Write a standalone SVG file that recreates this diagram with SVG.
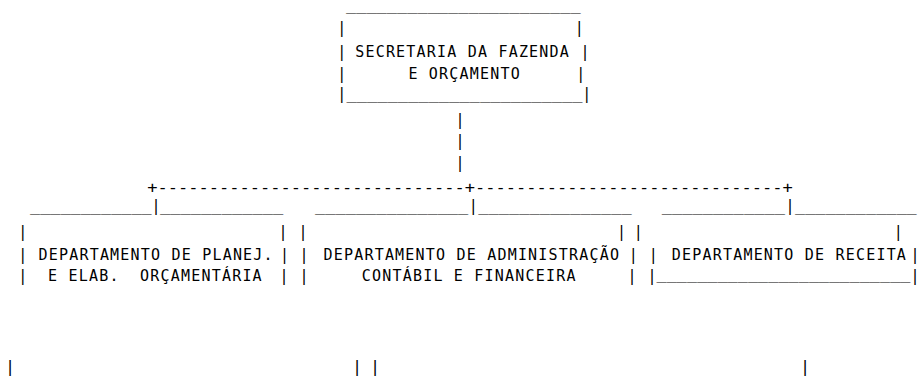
<svg xmlns="http://www.w3.org/2000/svg" width="923" height="383" viewBox="0 0 923 383" xml:space="preserve">
<style>
.t{font-family:"DejaVu Sans Mono","Liberation Mono",monospace;font-size:15px;letter-spacing:1.2px;fill:#000;white-space:pre}
.n{letter-spacing:0}
.b{font-size:16px;letter-spacing:0}
</style>
<rect width="923" height="383" fill="#ffffff"/>
<g id="secretaria" class="t">
<text class="n" x="346" y="10" textLength="234.7" lengthAdjust="spacingAndGlyphs">_______________________</text>
<text x="337.2" y="33.1">|</text><text x="574.8" y="33.1">|</text>
<text x="337.2" y="57.3">|</text><text x="355.2" y="57.3">SECRETARIA DA FAZENDA</text><text x="580.5" y="57.3">|</text>
<text x="337.2" y="79.3">|</text><text x="408.4" y="79.3">E ORÇAMENTO</text><text x="576.2" y="79.3">|</text>
<text x="337.2" y="98.8">|</text><text class="n" x="346.5" y="98.8" textLength="236" lengthAdjust="spacingAndGlyphs">_______________________</text><text x="582.2" y="98.8">|</text>
</g>
<g id="connectors" class="t">
<text x="455.5" y="124.7">|</text>
<text x="455.5" y="145.6">|</text>
<text x="455.5" y="168.1">|</text>
<text class="n" x="147.2" y="192.8" textLength="645.6" lengthAdjust="spacingAndGlyphs">+------------------------------+------------------------------+</text>
<text x="151.5" y="211">|</text>
<text x="468.8" y="211">|</text>
<text x="785.5" y="211">|</text>
</g>
<g id="dep-planej" class="t">
<text class="n" x="30" y="211" textLength="121.7" lengthAdjust="spacingAndGlyphs">____________</text>
<text class="n" x="160" y="211" textLength="123.3" lengthAdjust="spacingAndGlyphs">____________</text>
<text x="18.2" y="237">|</text><text x="278.5" y="237">|</text>
<text x="18.2" y="259.5">|</text><text x="38.5" y="259.5">DEPARTAMENTO DE PLANEJ.</text><text x="280" y="259.5">|</text>
<text x="18.2" y="281">|</text><text x="48" y="281" xml:space="preserve">E ELAB.  ORÇAMENTÁRIA</text><text x="279.5" y="281">|</text>
</g>
<g id="dep-admin" class="t">
<text class="n" x="315" y="211" textLength="153.3" lengthAdjust="spacingAndGlyphs">_______________</text>
<text class="n" x="478.3" y="211" textLength="153.4" lengthAdjust="spacingAndGlyphs">_______________</text>
<text x="298.5" y="237">|</text><text x="617" y="237">|</text>
<text x="299.5" y="259.5">|</text><text x="323.5" y="259.5">DEPARTAMENTO DE ADMINISTRAÇÃO</text><text x="628.8" y="259.5">|</text>
<text x="299.5" y="281">|</text><text x="361.8" y="281">CONTÁBIL E FINANCEIRA</text><text x="627.5" y="281">|</text>
</g>
<g id="dep-receita" class="t">
<text class="n" x="661.7" y="211" textLength="123.3" lengthAdjust="spacingAndGlyphs">____________</text>
<text class="n" x="795" y="211" textLength="121.7" lengthAdjust="spacingAndGlyphs">____________</text>
<text x="633.8" y="237">|</text><text x="893.8" y="237">|</text>
<text x="648.8" y="259.5">|</text><text x="671.8" y="259.5">DEPARTAMENTO DE RECEITA</text><text x="910.5" y="259.5">|</text>
<text x="647.5" y="281">|</text><text class="n" x="656.5" y="279" textLength="254" lengthAdjust="spacingAndGlyphs">_________________________</text><text x="910.5" y="281">|</text>
</g>
<g id="continuation" class="t b">
<text x="5.2" y="372">|</text>
<text x="352.2" y="372">|</text>
<text x="370.2" y="372">|</text>
<text x="800.2" y="372">|</text>
</g>
</svg>
